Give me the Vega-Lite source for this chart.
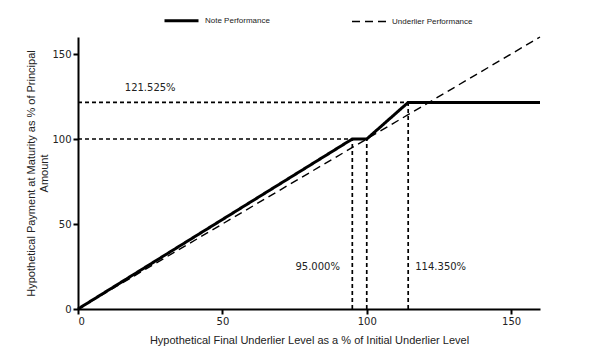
{
  "$schema": "https://vega.github.io/schema/vega-lite/v6.json",
  "width": 462,
  "height": 272,
  "autosize": {"type": "none"},
  "padding": {"left": 78, "top": 37, "right": 68, "bottom": 45},
  "background": "white",
  "config": {
    "view": {"stroke": null},
    "font": "Liberation Sans",
    "axis": {
      "grid": false,
      "domainColor": "black",
      "domainWidth": 2,
      "tickColor": "black",
      "tickWidth": 2,
      "tickSize": 5,
      "labelFont": "DejaVu Sans",
      "labelFontSize": 10,
      "labelColor": "#222",
      "titleFont": "Liberation Sans",
      "titleFontSize": 11,
      "titleFontWeight": "normal",
      "titleColor": "#222"
    }
  },
  "datasets": {
    "perf": [
      {"series": "Note Performance", "level": 0, "payment": 0},
      {"series": "Note Performance", "level": 95, "payment": 100},
      {"series": "Note Performance", "level": 100, "payment": 100},
      {"series": "Note Performance", "level": 114.35, "payment": 121.525},
      {"series": "Note Performance", "level": 160, "payment": 121.525},
      {"series": "Underlier Performance", "level": 0, "payment": 0},
      {"series": "Underlier Performance", "level": 160, "payment": 160}
    ],
    "refs": [
      {"x": 0, "y": 100, "x2": 100, "y2": 100},
      {"x": 0, "y": 121.525, "x2": 114.35, "y2": 121.525},
      {"x": 95, "y": 0, "x2": 95, "y2": 100},
      {"x": 100, "y": 0, "x2": 100, "y2": 100},
      {"x": 114.35, "y": 0, "x2": 114.35, "y2": 121.525}
    ],
    "labels": [
      {"x": 25, "y": 130, "text": "121.525%"},
      {"x": 83, "y": 24.5, "text": "95.000%"},
      {"x": 125.6, "y": 24.5, "text": "114.350%"}
    ]
  },
  "layer": [
    {
      "data": {"name": "refs"},
      "mark": {"type": "rule", "color": "black", "strokeWidth": 1.7, "strokeDash": [4, 3]},
      "encoding": {
        "x": {"field": "x", "type": "quantitative"},
        "y": {"field": "y", "type": "quantitative"},
        "x2": {"field": "x2"},
        "y2": {"field": "y2"}
      }
    },
    {
      "data": {"name": "perf"},
      "mark": {"type": "line", "color": "black", "strokeCap": "butt"},
      "encoding": {
        "x": {
          "field": "level", "type": "quantitative",
          "scale": {"domain": [0, 160], "nice": false},
          "axis": {"values": [0, 50, 100, 150], "title": "Hypothetical Final Underlier Level as a % of Initial Underlier Level", "titlePadding": 8}
        },
        "y": {
          "field": "payment", "type": "quantitative",
          "scale": {"domain": [0, 160], "nice": false},
          "axis": {"values": [0, 50, 100, 150], "title": ["Hypothetical Payment at Maturity as % of Principal", "Amount"], "titlePadding": 2}
        },
        "detail": {"field": "series"},
        "strokeDash": {
          "field": "series", "type": "nominal",
          "scale": {"domain": ["Note Performance", "Underlier Performance"], "range": [[1, 0], [8, 5]]},
          "legend": {
            "title": null, "orient": "none", "direction": "horizontal",
            "legendX": 85, "legendY": -35,
            "symbolType": "stroke", "symbolSize": 1156, "symbolStrokeColor": "black",
            "labelFontSize": 8, "labelFont": "Liberation Sans", "labelColor": "#222",
            "columnPadding": 79, "labelOffset": 5
          }
        },
        "strokeWidth": {
          "field": "series", "type": "nominal",
          "scale": {"domain": ["Note Performance", "Underlier Performance"], "range": [3, 1.4]},
          "legend": {
            "title": null, "orient": "none", "direction": "horizontal",
            "legendX": 85, "legendY": -35,
            "symbolType": "stroke", "symbolSize": 1156, "symbolStrokeColor": "black",
            "labelFontSize": 8, "labelFont": "Liberation Sans", "labelColor": "#222",
            "columnPadding": 79, "labelOffset": 5
          }
        }
      }
    },
    {
      "data": {"name": "labels"},
      "mark": {"type": "text", "font": "DejaVu Sans", "fontSize": 10, "color": "#222"},
      "encoding": {
        "x": {"field": "x", "type": "quantitative"},
        "y": {"field": "y", "type": "quantitative"},
        "text": {"field": "text"}
      }
    }
  ]
}
